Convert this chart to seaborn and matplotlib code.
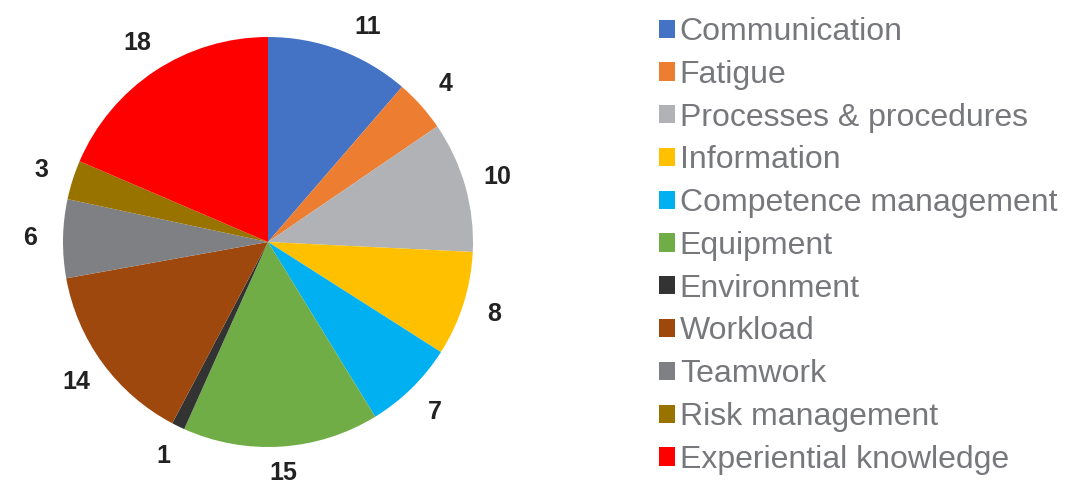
import matplotlib
matplotlib.use("Agg")
import matplotlib.pyplot as plt
from matplotlib.patches import Patch
import seaborn as sns

# categories and counts, clockwise from 12 o'clock
categories = ['Communication', 'Fatigue', 'Processes & procedures', 'Information',
              'Competence management', 'Equipment', 'Environment', 'Workload',
              'Teamwork', 'Risk management', 'Experiential knowledge']
counts = [11, 4, 10, 8, 7, 15, 1, 14, 6, 3, 18]
colors = ['#4472C4', '#ED7D31', '#B1B2B5', '#FFC000', '#00B0F0', '#70AD47',
          '#333333', '#9E480E', '#7F8084', '#997300', '#FF0000']

sns.set_theme(style="white")
plt.rcParams['font.family'] = ['Liberation Sans', 'DejaVu Sans']

fig = plt.figure(figsize=(10.65, 4.86), dpi=100)
ax = fig.add_axes([63 / 1065, 39 / 486, 410 / 1065, 410 / 486])

palette = sns.color_palette(colors)
wedges, texts = ax.pie(
    counts,
    labels=[str(c) for c in counts],
    colors=palette,
    startangle=90,
    counterclock=False,
    labeldistance=1.16,
    textprops={'fontsize': 18, 'fontweight': 'bold', 'color': '#222222'},
    wedgeprops={'linewidth': 0},
)
for t in texts:
    t.set_ha('center')
    t.set_va('center')
    t.set_clip_on(False)
# small nudges to mimic the spreadsheet's label placement
x0, y0 = texts[0].get_position()
texts[0].set_position((x0 + 0.08, y0 - 0.04))
texts[5].set_y(texts[5].get_position()[1] + 0.03)
ax.set_xlim(-1, 1)
ax.set_ylim(-1, 1)
ax.set_aspect('equal')

handles = [Patch(facecolor=c, edgecolor='none') for c in palette]
leg = fig.legend(
    handles, categories,
    loc='upper left',
    bbox_to_anchor=(659 / 1065, 1 - 17 / 486),
    frameon=False,
    fontsize=23,
    handlelength=0.5,
    handleheight=0.5,
    handletextpad=0.15,
    labelspacing=0.40,
    borderaxespad=0,
    borderpad=0,
)
for t in leg.get_texts():
    t.set_color('#77787B')

fig.savefig('out.png', dpi=100)
